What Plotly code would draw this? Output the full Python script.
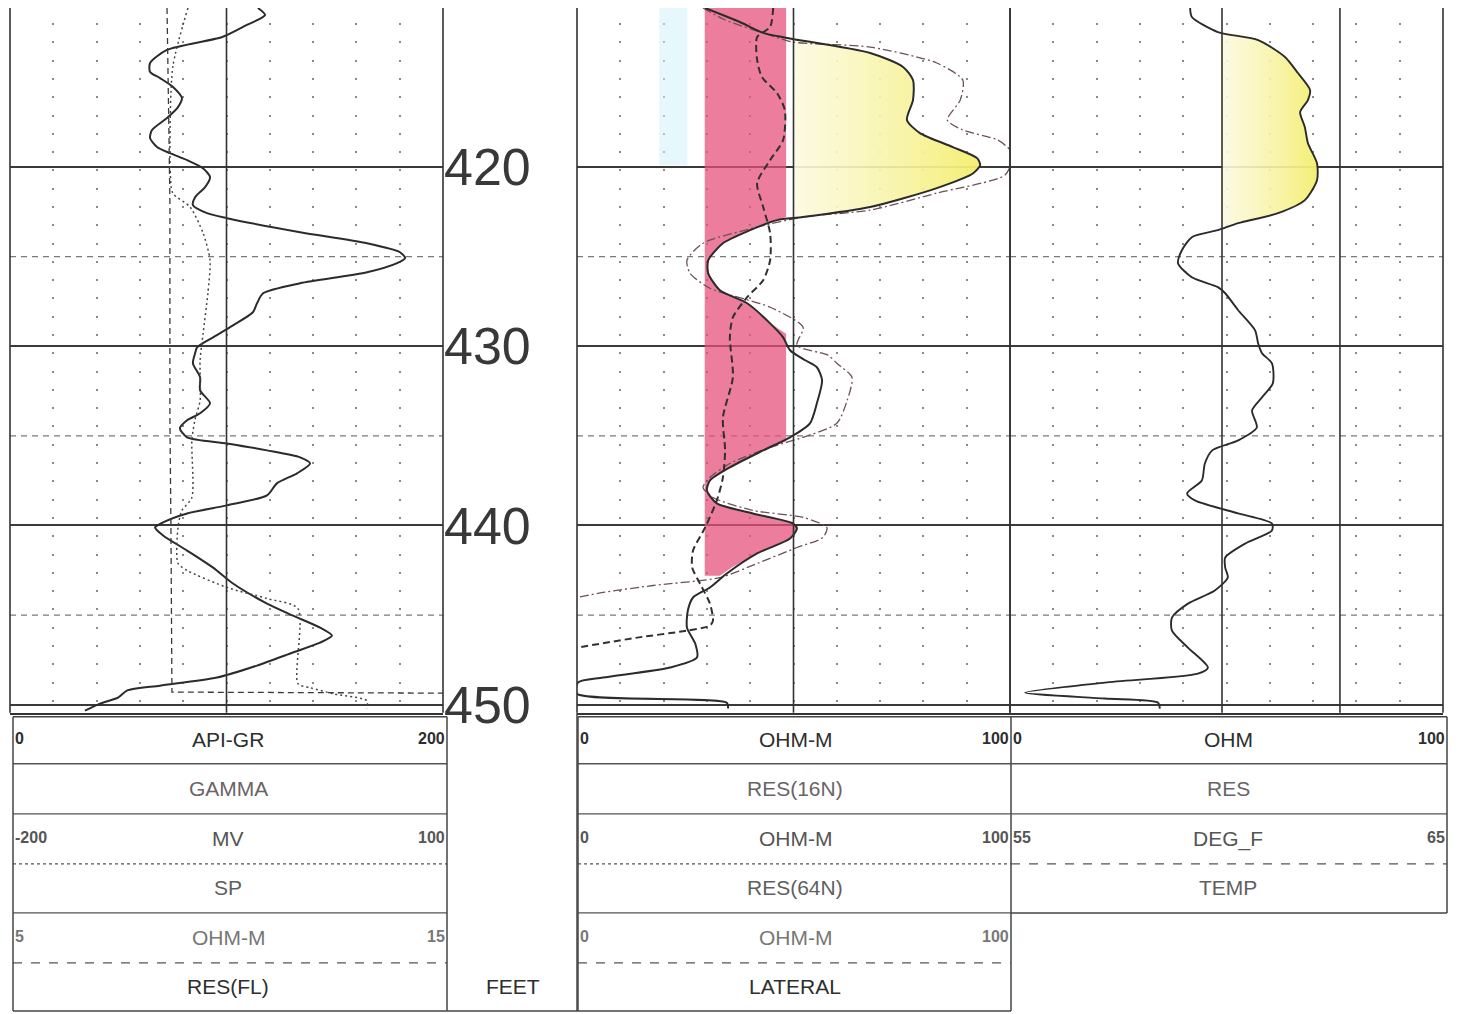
import numpy as np
import plotly.graph_objects as go

# ---------------- data ----------------
DEPTH_RANGE = [450.45, 411.12]
DEPTH_TICKS = [420, 430, 440, 450]
DASH_DEPTHS = [425, 435, 445]

# Track 1 : GAMMA (API-GR 0-200), SP (MV -200..100), RES(FL) (OHM-M 5..15)
gr_depth = [411.12, 411.51, 412.12, 412.74, 413.46, 414.19, 414.69, 415.03, 415.53, 416.15,
            416.65, 417.26, 417.93, 418.38, 418.88, 419.22, 419.61, 420.06, 420.56, 421.12,
            421.68, 422.12, 422.57, 422.85, 423.63, 424.25, 424.75, 425.08, 425.36, 425.87,
            426.48, 427.04, 427.60, 428.10, 428.83, 429.50, 430.06, 430.39, 430.95, 431.73,
            432.46, 433.18, 433.74, 434.13, 434.58, 435.08, 435.42, 435.81, 436.20, 436.54,
            437.09, 437.65, 438.32, 438.88, 439.33, 439.83, 440.11, 440.56, 441.40, 442.35,
            443.24, 444.36, 445.03, 445.70, 446.15, 446.54, 447.09, 447.82, 448.49, 448.94,
            449.22, 449.61, 449.94, 450.34]
gr_api = [114.5, 117.8, 108.5, 98.0, 72.5, 64.7, 64.7, 69.3, 75.3, 79.4,
          77.6, 72.5, 65.6, 64.7, 67.9, 73.9, 81.8, 89.1, 92.4, 90.1,
          85.5, 84.5, 91.0, 100.2, 134.0, 164.9, 180.1, 182.5, 178.8, 164.9,
          134.0, 116.9, 114.1, 112.2, 103.0, 93.8, 86.4, 85.5, 84.5, 87.8,
          87.8, 92.4, 87.8, 81.8, 78.5, 81.8, 100.2, 118.7, 134.0, 138.6,
          132.6, 123.3, 118.7, 100.2, 81.8, 70.7, 67.0, 70.7, 81.8, 93.8,
          103.0, 118.7, 130.7, 143.2, 148.7, 143.2, 130.7, 114.1, 95.6, 69.3,
          54.0, 49.9, 41.6, 34.6]

sp_depth = [411.12, 414.0, 418.0, 422.0, 428.0, 434.0, 440.0, 445.0, 449.30, 449.36]
sp_mv = [-91.2, -90.5, -89.9, -89.2, -89.2, -89.2, -88.5, -88.0, -87.8, 101.0]

resfl_depth = [411.12, 414.41, 420.00, 421.45, 422.23, 423.69, 425.20, 427.04, 429.27, 430.78,
               433.02, 434.13, 435.25, 438.44, 439.16, 440.11, 442.12, 442.51, 443.46, 444.08,
               444.64, 448.83, 449.05, 449.39, 449.78, 450.22]
resfl_ohmm = [9.11, 8.76, 8.70, 8.76, 9.16, 9.46, 9.62, 9.57, 9.46, 9.39,
              9.39, 9.27, 9.20, 9.20, 8.97, 8.88, 8.88, 9.09, 10.01, 10.94,
              11.65, 11.65, 11.93, 12.46, 13.24, 13.24]

# Track 2 : RES(16N), RES(64N), LATERAL (OHM-M 0-100)
res16n_depth = [411.12, 411.90, 412.51, 412.79, 413.63, 414.41, 415.14, 416.26, 417.37, 418.10,
                418.88, 419.50, 419.89, 420.34, 421.17, 422.23, 422.79, 422.96, 423.52, 424.25,
                425.20, 425.92, 426.87, 427.60, 428.72, 429.50, 430.22, 430.78, 431.17, 431.90,
                433.18, 434.30, 435.08, 435.81, 436.76, 437.49, 438.04, 438.77, 439.33, 439.89,
                440.17, 440.73, 441.56, 442.68, 443.46, 444.02, 444.75, 445.70, 446.59, 447.37,
                447.93, 448.49, 448.77, 449.39, 449.89, 450.22]
res16n_ohmm = [29.6, 37.6, 43.0, 48.5, 67.7, 75.3, 77.6, 77.6, 76.2, 79.2,
               86.8, 92.4, 93.1, 91.5, 83.1, 67.7, 52.2, 46.2, 40.0, 33.7,
               30.3, 30.3, 33.0, 39.3, 44.6, 47.6, 49.2, 52.7, 55.4, 56.6,
               55.4, 53.8, 49.2, 43.0, 35.3, 30.7, 30.0, 32.3, 40.6, 49.9,
               50.8, 49.2, 41.6, 34.6, 30.7, 26.8, 25.6, 25.4, 27.3, 27.7,
               21.5, 6.0, 0.2, 0.0, 34.6, 34.9]

res64n_depth = [411.12, 412.18, 412.74, 414.02, 414.97, 415.87, 416.82, 418.49, 419.61, 420.89,
                422.23, 423.69, 425.20, 426.31, 427.26, 428.38, 429.50, 431.73, 433.97, 435.81,
                437.32, 438.60, 440.11, 441.40, 442.35, 443.24, 444.36, 445.31, 445.59, 445.87,
                446.26, 446.82]
res64n_ohmm = [45.3, 44.6, 41.6, 41.6, 42.7, 46.2, 48.0, 47.6, 44.6, 41.6,
               43.0, 44.6, 44.6, 43.0, 39.3, 36.0, 35.3, 36.0, 33.7, 34.2,
               33.7, 32.3, 29.6, 26.8, 26.6, 28.4, 30.7, 31.4, 30.7, 25.4,
               13.9, 0.0]

lat_depth = [411.12, 411.79, 412.51, 413.02, 413.30, 414.19, 415.14, 416.26, 417.37, 417.93,
             418.49, 419.05, 419.61, 420.45, 421.45, 422.40, 422.79, 423.35, 424.25, 425.20,
             425.92, 426.76, 427.82, 428.94, 429.94, 430.50, 430.95, 431.73, 433.02, 434.30,
             435.08, 435.64, 436.54, 437.32, 437.88, 438.44, 439.16, 439.55, 440.11, 440.67,
             441.23, 442.12, 442.91, 443.35, 443.74, 444.02]
lat_ohmm = [29.1, 34.2, 43.0, 49.9, 67.7, 83.1, 89.1, 88.5, 85.5, 89.1,
            97.2, 100.0, 100.5, 98.8, 83.1, 67.7, 52.2, 41.6, 29.1, 25.4,
            26.1, 30.7, 44.6, 52.2, 50.8, 58.0, 60.0, 63.5, 62.4, 60.0,
            52.2, 44.6, 35.3, 30.7, 29.1, 31.4, 40.6, 52.2, 57.7, 56.8,
            50.8, 41.6, 33.0, 17.6, 6.0, 0.0]

# Track 3 : RES (OHM 0-100)
res_depth = [411.12, 411.62, 412.46, 412.91, 413.85, 414.75, 415.70, 416.26, 416.93, 417.77,
             418.66, 419.78, 420.73, 421.84, 422.57, 423.13, 423.52, 423.91, 424.64, 425.36,
             426.15, 426.70, 427.04, 427.99, 429.11, 429.83, 430.39, 430.95, 432.07, 432.85,
             433.58, 434.53, 435.25, 435.81, 436.54, 437.49, 438.21, 438.60, 439.33, 439.89,
             440.28, 441.01, 441.79, 442.35, 442.91, 443.63, 444.36, 445.14, 445.87, 446.82,
             447.93, 448.27, 448.77, 449.33, 449.66, 449.89, 450.22]
res_ohm = [41.6, 42.0, 48.0, 57.3, 63.5, 66.5, 69.3, 68.8, 67.0, 68.1,
           68.8, 70.9, 70.9, 68.1, 61.9, 52.7, 48.0, 42.0, 39.7, 38.8,
           42.0, 48.0, 49.7, 52.7, 56.6, 57.3, 58.2, 60.5, 60.7, 58.2,
           55.9, 57.0, 52.7, 46.7, 45.0, 44.3, 40.9, 42.7, 52.7, 60.5,
           60.5, 54.3, 49.7, 49.7, 50.3, 47.3, 41.1, 37.4, 37.4, 41.1,
           45.7, 43.4, 21.9, 3.5, 21.9, 34.2, 34.6]

# hand colouring
PINK_LEFT = 29.5
pink_depth = [411.12, 422.79, 422.96, 423.52, 424.25, 425.20, 425.92, 426.87, 427.60, 428.72,
              429.30, 435.30, 435.81, 436.76, 437.49, 438.04, 438.77, 439.33, 439.89, 440.17,
              440.73, 441.56, 442.30, 442.80]
pink_right = [48.3, 48.3, 46.2, 40.0, 33.7, 30.3, 30.3, 33.0, 39.3, 44.6,
              48.3, 48.3, 43.0, 35.3, 30.7, 30.0, 32.3, 40.6, 49.9, 50.8,
              49.2, 41.6, 36.0, 33.0]
CYAN_LEFT, CYAN_RIGHT = 19.0, 25.5
cyan_depth = [411.12, 419.9]
YELLOW2_BASE, YELLOW2_TOP, YELLOW2_BOTTOM = 50.0, 412.79, 422.79
YELLOW3_BASE, YELLOW3_TOP, YELLOW3_BOTTOM = 49.0, 412.46, 423.52

# header texts
track1_header = [("0", "API-GR", "200"), ("", "GAMMA", ""), ("-200", "MV", "100"),
                 ("", "SP", ""), ("5", "OHM-M", "15"), ("", "RES(FL)", "")]
track2_header = [("0", "OHM-M", "100"), ("", "RES(16N)", ""), ("0", "OHM-M", "100"),
                 ("", "RES(64N)", ""), ("0", "OHM-M", "100"), ("", "LATERAL", "")]
track3_header = [("0", "OHM", "100"), ("", "RES", ""), ("55", "DEG_F", "65"), ("", "TEMP", "")]
depth_header = "FEET"

# ---------------- figure ----------------
W, H = 1463, 1014          # reference picture size (layout positions are fractions of it)
FIG_H = 1036               # page height that ends up photographed as 1014 px
FONT = "Liberation Sans, Arial, sans-serif"


def px(x):
    return x / W


def py(y):
    return 1 - y / H


Y_DOM = [py(712), py(8)]
T1 = [px(10), px(443)]
T2 = [px(577), px(1010)]
T3 = [px(1010), px(1443)]

fig = go.Figure()

# fills
pd_ = np.array(pink_depth)
fig.add_trace(go.Scatter(x=np.full(len(pd_), PINK_LEFT), y=pd_, xaxis="x4", yaxis="y",
                         mode="lines", line=dict(width=0), hoverinfo="skip", showlegend=False))
fig.add_trace(go.Scatter(x=pink_right, y=pd_, xaxis="x4", yaxis="y", mode="lines",
                         line=dict(width=0), fill="tonextx", fillcolor="rgba(230,80,122,0.74)",
                         hoverinfo="skip", showlegend=False))

fig.add_trace(go.Scatter(x=[CYAN_LEFT] * len(cyan_depth), y=cyan_depth, xaxis="x4", yaxis="y",
                         mode="lines", line=dict(width=0), hoverinfo="skip", showlegend=False))
fig.add_trace(go.Scatter(x=[CYAN_RIGHT] * len(cyan_depth), y=cyan_depth, xaxis="x4", yaxis="y",
                         mode="lines", line=dict(width=0), fill="tonextx",
                         fillcolor="rgba(210,242,247,0.55)", hoverinfo="skip", showlegend=False))

yellow_grad = dict(type="horizontal",
                   colorscale=[[0, "rgba(252,250,225,0.9)"], [0.5, "rgba(248,244,170,0.9)"],
                               [1, "rgba(244,238,110,0.95)"]])

d16 = np.array(res16n_depth)
v16 = np.array(res16n_ohmm)
m2 = (d16 >= YELLOW2_TOP) & (d16 <= YELLOW2_BOTTOM)
fig.add_trace(go.Scatter(x=np.full(m2.sum(), YELLOW2_BASE), y=d16[m2], xaxis="x4", yaxis="y",
                         mode="lines", line=dict(width=0), hoverinfo="skip", showlegend=False))
fig.add_trace(go.Scatter(x=np.maximum(v16[m2], YELLOW2_BASE), y=d16[m2], xaxis="x4", yaxis="y",
                         mode="lines", line=dict(width=0, shape="spline"), fill="tonextx",
                         fillgradient=yellow_grad, hoverinfo="skip", showlegend=False))

d3 = np.array(res_depth)
v3 = np.array(res_ohm)
m3 = (d3 >= YELLOW3_TOP) & (d3 <= YELLOW3_BOTTOM)
fig.add_trace(go.Scatter(x=np.full(m3.sum(), YELLOW3_BASE), y=d3[m3], xaxis="x5", yaxis="y",
                         mode="lines", line=dict(width=0), hoverinfo="skip", showlegend=False))
fig.add_trace(go.Scatter(x=np.maximum(v3[m3], YELLOW3_BASE), y=d3[m3], xaxis="x5", yaxis="y",
                         mode="lines", line=dict(width=0, shape="spline"), fill="tonextx",
                         fillgradient=yellow_grad, hoverinfo="skip", showlegend=False))


# curves
def curve(x, y, xa, color, width, dash="solid", shape="spline"):
    fig.add_trace(go.Scatter(x=x, y=y, xaxis=xa, yaxis="y", mode="lines",
                             line=dict(color=color, width=width, dash=dash, shape=shape,
                                       smoothing=0.7),
                             showlegend=False))


curve(sp_mv, sp_depth, "x2", "#3a3a3a", 1.3, "6px,4px", "linear")
curve(resfl_ohmm, resfl_depth, "x3", "#444444", 1.5, "2px,3px")
curve(gr_api, gr_depth, "x", "#2b2b2b", 2.0)
curve(lat_ohmm, lat_depth, "x4", "#6e5058", 1.3, "9px,3px,2px,3px")
curve(res64n_ohmm, res64n_depth, "x4", "#303030", 2.0, "7px,4px")
curve(res16n_ohmm, res16n_depth, "x4", "#2b2b2b", 2.0)
curve(res_ohm, res_depth, "x5", "#2b2b2b", 1.9)

dots = dict(showgrid=True, gridcolor="#8a8a8a", gridwidth=1.6,
            griddash="0px,15.1px,2px,1.19px",
            zeroline=False, showticklabels=False, ticks="", showline=True,
            linecolor="#333333", linewidth=2, anchor="y", fixedrange=True)

fig.update_layout(
    width=W, height=FIG_H, autosize=False, margin=dict(l=0, r=0, t=0, b=0, pad=0),
    paper_bgcolor="white", plot_bgcolor="rgba(0,0,0,0)", showlegend=False,
    xaxis=dict(domain=T1, range=[0, 200], tick0=0, dtick=20, **dots),
    xaxis2=dict(overlaying="x", range=[-200, 100], visible=False, anchor="y"),
    xaxis3=dict(overlaying="x", range=[5, 15], visible=False, anchor="y"),
    xaxis4=dict(domain=T2, range=[0, 100], tick0=0, dtick=10, **dots),
    xaxis5=dict(domain=T3, range=[0, 100], tick0=0, dtick=10, **dots),
    yaxis=dict(domain=Y_DOM, range=DEPTH_RANGE, anchor="free", position=px(443), side="right",
               tickvals=DEPTH_TICKS, ticks="", ticklen=0, showline=False, zeroline=False,
               showgrid=True, gridcolor="#3a3a3a", gridwidth=1.5, fixedrange=True,
               tickfont=dict(family=FONT, size=52, color="#383838")),
)

shapes = []
for ref, fracs in [("x", [0, 0.5, 1]), ("x4", [0, 0.5, 1]), ("x5", [0, 0.4896, 0.762, 1])]:
    for f in fracs:
        shapes.append(dict(type="line", xref=f"{ref} domain", yref="paper", x0=f, x1=f,
                           y0=Y_DOM[0], y1=Y_DOM[1], line=dict(color="#333333", width=1.6)))
    for d in DASH_DEPTHS:
        shapes.append(dict(type="line", xref=f"{ref} domain", yref="y", x0=0, x1=1, y0=d, y1=d,
                           layer="below", line=dict(color="#7a7a7a", width=1.2, dash="6px,5px")))


def hl(x0, x1, y, dash="solid", color="#444444", width=1.5):
    shapes.append(dict(type="line", xref="paper", yref="paper", x0=px(x0), x1=px(x1),
                       y0=py(y), y1=py(y), line=dict(color=color, width=width, dash=dash)))


def vl(x, y0, y1, color="#444444", width=1.5):
    shapes.append(dict(type="line", xref="paper", yref="paper", x0=px(x), x1=px(x),
                       y0=py(y0), y1=py(y1), line=dict(color=color, width=width)))


ROW_LINES = [763, 813, 863, 912, 962]
ROW_DASH = ["solid", "solid", "dot", "solid", "dash"]
ROW_CENTERS = [739, 788, 838, 887, 937, 986]

for (x0, x1) in [(13, 447), (578, 1011)]:
    hl(x0, x1, 716)
    for y, ds in zip(ROW_LINES, ROW_DASH):
        hl(x0, x1, y, ds, "#555555", 1.3)
    hl(x0, x1, 1010)
    vl(x0, 716, 1010)
    vl(x1, 716, 1010)
hl(447, 578, 1010)
vl(577, 712, 1010)
hl(1011, 1447, 716)
for y, ds in zip(ROW_LINES[:3], ["solid", "solid", "dash"]):
    hl(1011, 1447, y, ds, "#555555", 1.3)
hl(1011, 1447, 912)
vl(1447, 716, 912)

ann = []
ROW_COLORS = ["#2e2e2e", "#6b6368", "#555555", "#5f5f5f", "#777777", "#2e2e2e"]


def txt(s, x, y, anchor="center", size=21, color="#333333", bold=False):
    ann.append(dict(text=f"<b>{s}</b>" if bold else s, x=px(x), y=py(y), xref="paper",
                    yref="paper", xanchor=anchor, yanchor="middle", showarrow=False,
                    font=dict(family=FONT, size=size, color=color)))


for header, (xl, xc, xr) in [(track1_header, (13, 228, 447)),
                             (track2_header, (578, 795, 1011)),
                             (track3_header, (1011, 1228, 1447))]:
    for i, (lo, name, hi) in enumerate(header):
        c = ROW_COLORS[i]
        txt(name, xc, ROW_CENTERS[i], "center", 21, c)
        if lo:
            txt(lo, xl, ROW_CENTERS[i] - 1, "left", 16, c, True)
        if hi:
            txt(hi, xr, ROW_CENTERS[i] - 1, "right", 16, c, True)

txt(depth_header, 513, 986, "center", 21, "#2e2e2e")

fig.update_layout(shapes=shapes, annotations=ann)

fig.write_html(
    "out.html",
    config={"displayModeBar": False, "responsive": False},
    post_script=("document.documentElement.style.margin='0px';"
                 "document.body.style.margin='0px';"
                 "document.documentElement.style.overflow='hidden';"
                 "document.body.style.overflow='hidden';"),
)
